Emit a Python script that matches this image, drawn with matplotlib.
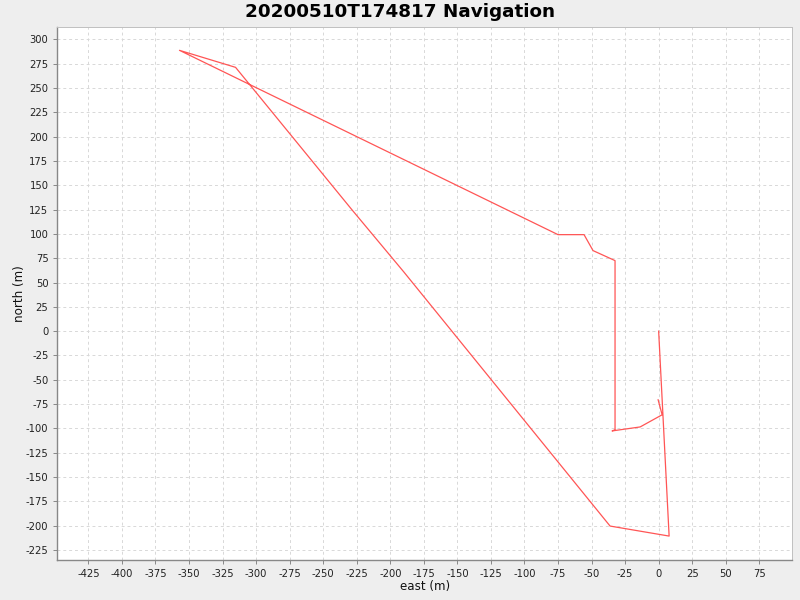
import matplotlib
matplotlib.use('Agg')
import matplotlib.pyplot as plt
import numpy as np

plt.rcParams['axes.unicode_minus'] = False

# navigation track (east, north) in metres
east = [0.0, 7.8, -36.2, -190.0, -228.7, -315.3, -357.1,
        -75.0, -55.6, -48.9, -32.5, -32.5, -34.7,
        -13.8, 2.6, -0.4]
north = [0.0, -210.7, -200.4, 61.0, 125.0, 271.2, 288.7,
         99.2, 99.2, 82.8, 72.5, -101.4, -102.6,
         -98.5, -86.0, -70.6]

x_ticks = np.arange(-425, 76, 25)
y_ticks = np.arange(-225, 301, 25)


def main():
    fig = plt.figure(figsize=(8, 6), dpi=100, facecolor='#eeeeee')
    ax = fig.add_axes([57.5 / 800, 40 / 600, 734.8 / 800, 533.5 / 600])
    ax.set_facecolor('white')

    ax.plot(east, north, color='#ff5555', lw=0.9)

    ax.set_xlim(-448, 99.6)
    ax.set_ylim(-235.3, 313.2)
    ax.set_xticks(x_ticks)
    ax.set_yticks(y_ticks)
    ax.grid(True, color='#d8d8d8', linestyle=(0, (3, 3)), lw=0.7)
    ax.set_axisbelow(True)

    for side in ['left', 'bottom']:
        ax.spines[side].set_color('#888888')
        ax.spines[side].set_linewidth(1.0)
    for side in ['top', 'right']:
        ax.spines[side].set_color('#c0c0c0')
        ax.spines[side].set_linewidth(0.7)

    ax.tick_params(colors='#888888', labelcolor='#222222', labelsize=7.2,
                   length=3, width=0.7)

    ax.set_xlabel('east (m)', fontsize=8.6, color='#111111', labelpad=1)
    ax.set_ylabel('north (m)', fontsize=8.6, color='#111111', labelpad=0)
    fig.text(0.5, 1 - 12 / 600, '20200510T174817 Navigation', ha='center',
             va='center', fontsize=13.2, fontweight='bold')

    fig.savefig('out.png', dpi=100, facecolor=fig.get_facecolor())


if __name__ == '__main__':
    main()
